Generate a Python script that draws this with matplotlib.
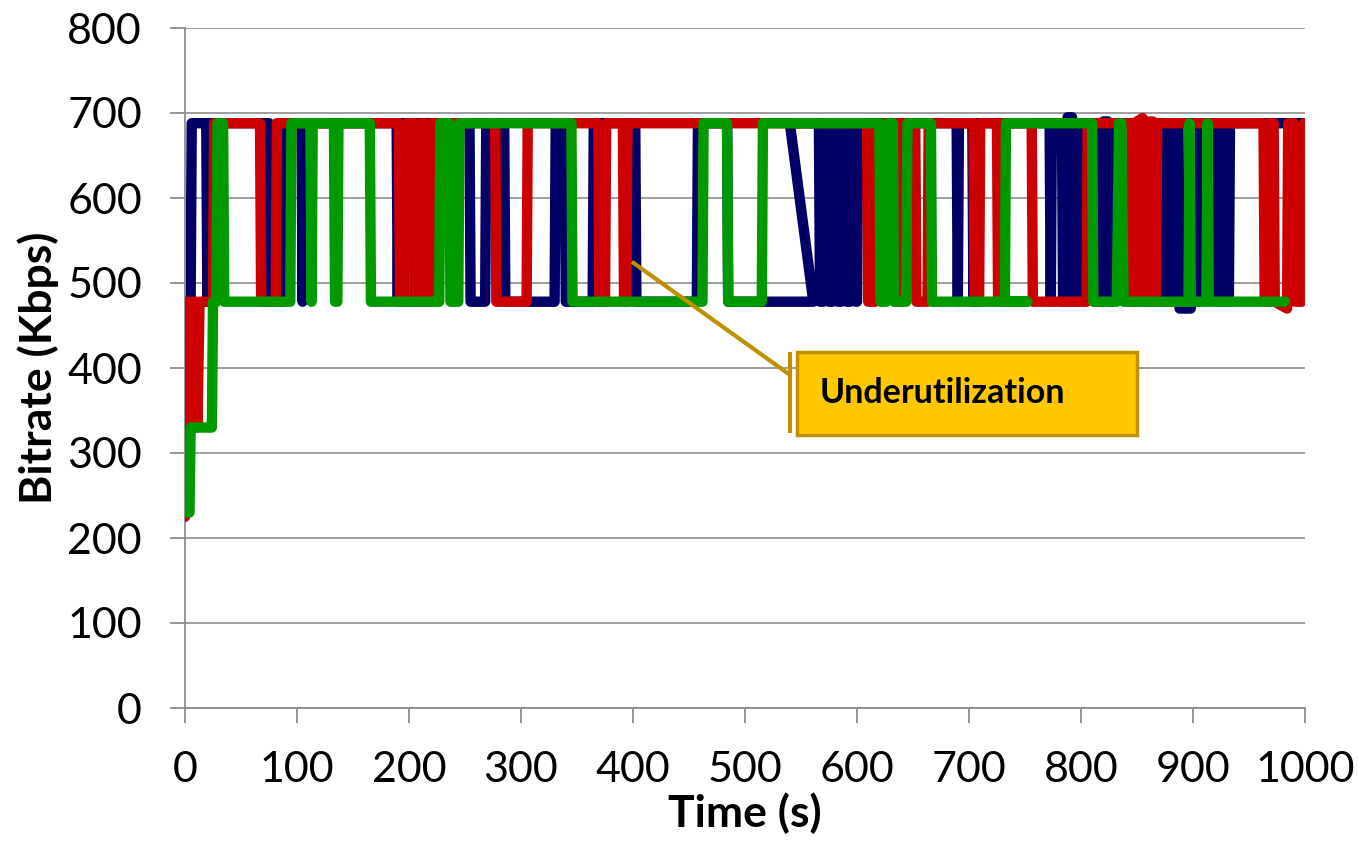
import matplotlib
matplotlib.use("Agg")
import matplotlib.pyplot as plt
from matplotlib.patches import Rectangle

plt.rcParams['font.family'] = ['Lato', 'DejaVu Sans']

# ---------------- data (time in s, bitrate in Kbps) ----------------
navy_t = [0, 5, 6, 19, 20, 21,
          75, 76, 87, 88, 104, 105, 106,
          189, 190, 191, 201, 202, 203,
          254, 255, 268, 269, 285, 286, 330, 331, 339, 340, 364, 365, 402, 403,
          457, 458, 484, 485, 561, 540, 566, 567, 570, 571, 574, 575, 578, 579,
          582, 583, 586, 587, 590, 591, 594, 595, 598, 599, 600, 601,
          689, 690, 691, 703, 704, 705, 772, 773, 774,
          783, 784, 787, 788, 792, 793, 796, 797, 803, 804, 805,
          815, 816, 819, 820, 824, 825, 828, 829,
          873, 874, 876, 877, 880, 881, 884, 887, 888, 898, 899, 902, 903, 906, 907,
          920, 921, 924, 925, 929, 930, 932, 933, 968, 969, 970, 1000]
navy_v = [478, 478, 688, 688, 478, 688,
          688, 478, 478, 688, 688, 478, 688,
          688, 478, 688, 688, 478, 688,
          688, 478, 478, 688, 688, 478, 478, 688, 688, 478, 478, 688, 688, 478,
          478, 688, 688, 478, 478, 688, 688, 478, 478, 688, 688, 478, 478, 688,
          688, 478, 478, 688, 688, 478, 478, 688, 688, 478, 478, 688,
          688, 478, 688, 688, 478, 688, 688, 478, 688,
          688, 478, 478, 695, 695, 478, 478, 688, 688, 478, 688,
          688, 478, 478, 690, 690, 478, 478, 688,
          688, 478, 478, 688, 688, 478, 688, 688, 470, 470, 688, 688, 478, 478, 688,
          688, 478, 478, 688, 688, 478, 478, 688, 688, 478, 688, 688]

red_t = [0, 1, 2, 4, 5, 7, 8, 10, 11, 13,
         25, 26, 67, 68, 81, 82,
         191, 192, 197, 198, 206, 207, 210, 211, 215, 216, 219, 220,
         277, 278, 305, 306, 369, 370, 375, 376, 391, 392, 394, 395,
         609, 610, 616, 617, 635, 636, 638, 639, 652, 653, 663, 664,
         704, 705, 709, 710, 725, 726, 728, 729, 756, 757, 805, 806,
         845, 846, 849, 850, 855, 856, 860, 861, 864, 865, 867, 868,
         963, 964, 967, 968, 972, 973, 984, 985, 990, 991, 997, 999, 1001]
red_v = [225, 478, 330, 478, 330, 478, 330, 478, 330, 478,
         478, 688, 688, 478, 478, 688,
         688, 478, 478, 688, 688, 478, 478, 688, 688, 478, 478, 688,
         688, 478, 478, 688, 688, 478, 478, 688, 688, 478, 478, 688,
         688, 478, 478, 688, 688, 478, 478, 688, 688, 478, 478, 688,
         688, 478, 478, 688, 688, 478, 478, 688, 688, 478, 478, 688,
         688, 478, 478, 690, 694, 478, 478, 690, 690, 478, 478, 688,
         688, 478, 478, 688, 688, 478, 470, 688, 688, 478, 478, 688, 688]

green_t = [0, 4, 5, 24, 25, 28, 29, 34, 35,
           94, 95, 112, 113, 114, 133, 134, 136, 137,
           165, 166, 227, 228, 236, 237, 244, 245,
           345, 346, 462, 463, 484, 485, 515, 516,
           620, 621, 626, 627, 632, 633, 644, 645, 666, 667,
           752, 732, 733, 810, 811, 832, 834, 836, 838,
           896, 897, 898, 912, 913, 914, 982]
green_v = [230, 230, 330, 330, 478, 478, 688, 688, 478,
           478, 688, 688, 478, 688, 688, 478, 478, 688,
           688, 478, 478, 688, 688, 478, 478, 688,
           688, 478, 478, 688, 688, 478, 478, 688,
           688, 478, 478, 688, 688, 478, 478, 688, 688, 478,
           478, 478, 688, 688, 478, 478, 688, 688, 478,
           478, 688, 478, 478, 688, 478, 478]

x_ticks = [0, 100, 200, 300, 400, 500, 600, 700, 800, 900, 1000]
y_ticks = [0, 100, 200, 300, 400, 500, 600, 700, 800]
annotation_text = "Underutilization"

# ---------------- figure ----------------
W, H = 1358, 861
fig = plt.figure(figsize=(W / 100, H / 100), dpi=100)
ax = fig.add_axes([185 / W, 1 - 708 / H, 1120 / W, 680 / H])

line_kw = dict(lw=7.5, solid_capstyle='round', solid_joinstyle='round')
ax.plot(navy_t, navy_v, color='#000066', zorder=2, **line_kw)
ax.plot(red_t, red_v, color='#CC0000', zorder=3, **line_kw)
ax.plot(green_t, green_v, color='#009900', zorder=4, **line_kw)

ax.set_xlim(0, 1000)
ax.set_ylim(0, 800)
ax.set_xticks(x_ticks)
ax.set_yticks(y_ticks)
ax.yaxis.grid(True, color='#969696', lw=1.3)
ax.set_axisbelow(True)
for s in ['top', 'right']:
    ax.spines[s].set_visible(False)
for s in ['left', 'bottom']:
    ax.spines[s].set_color('#8C8C8C')
    ax.spines[s].set_linewidth(1.3)
ax.tick_params(axis='both', direction='out', length=11, width=1.3,
               color='#8C8C8C', labelsize=31, labelcolor='black', pad=20)

ax.set_xlabel('Time (s)', fontsize=32, fontweight='bold')
ax.set_ylabel('Bitrate (Kbps)', fontsize=32, fontweight='bold')
ax.xaxis.set_label_coords(0.5, -0.155)
ax.yaxis.set_label_coords(-0.131, 0.5)
ax.xaxis.label.set_va('center')
ax.yaxis.label.set_va('center')

# callout
gold = '#BF9000'
ax.plot([399, 540], [525, 392], color=gold, lw=3, zorder=6, solid_capstyle='butt')
ax.plot([540, 540], [419, 324], color=gold, lw=3, zorder=6, solid_capstyle='butt')
ax.add_patch(Rectangle((546, 321), 304, 98, facecolor='#FFC800',
                       edgecolor=gold, lw=2.5, zorder=6))
ax.text(567, 371, annotation_text, fontsize=24.5, fontweight='bold',
        ha='left', va='center', zorder=7)

fig.savefig('out.png', dpi=100)
